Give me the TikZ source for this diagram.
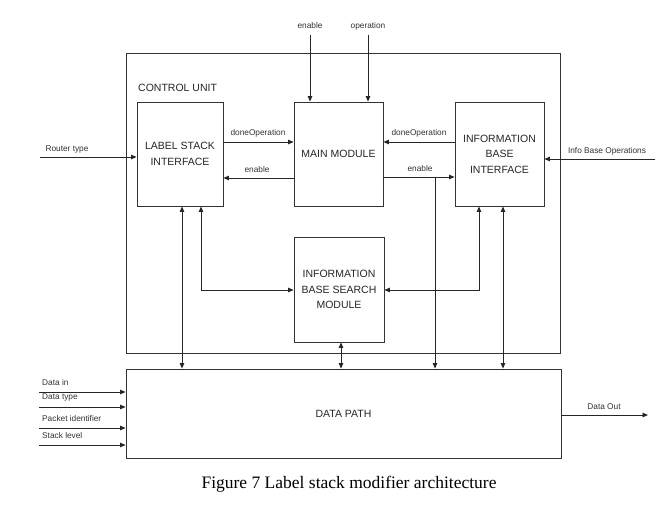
\documentclass[tikz,border=0pt]{standalone}
\usepackage{fontspec}
\setmainfont{Liberation Sans}
\newfontfamily\capfont{Liberation Serif}
\usetikzlibrary{arrows.meta}
\begin{document}
\begin{tikzpicture}[x=1pt,y=-1pt,
 blk/.style={draw=black!80, line width=0.9pt, align=center, font=\fontsize{10.5}{15.5}\selectfont, inner sep=0pt, text=black!85},
 lbl/.style={font=\fontsize{8.3}{9}\selectfont, inner sep=0pt, text=black!80},
 wire/.style={draw=black!85, line width=0.8pt},
 arr/.style={wire, -{Triangle[length=5.5pt,width=4.5pt]}},
 darr/.style={wire, {Triangle[length=5.5pt,width=4.5pt]}-{Triangle[length=5.5pt,width=4.5pt]}}]
\useasboundingbox (0,0) rectangle (663,513);
\fill[white] (0,0) rectangle (663,513);
% boxes
\node[blk, minimum width=434pt, minimum height=300pt] (cu) at (343,203) {};
\node[font=\fontsize{10.5}{12}\selectfont, anchor=west, inner sep=0pt, text=black!85] (cul) at (138,88) {CONTROL UNIT};
\node[blk, minimum width=86pt, minimum height=104pt] (lsi) at (180,154) {LABEL STACK\\INTERFACE};
\node[blk, minimum width=89pt, minimum height=104pt] (main) at (338.5,154) {MAIN MODULE};
\node[blk, minimum width=89pt, minimum height=104pt] (ibi) at (499.5,154) {INFORMATION\\BASE\\INTERFACE};
\node[blk, minimum width=90pt, minimum height=105pt] (search) at (339,289.5) {INFORMATION\\BASE SEARCH\\MODULE};
\node[blk, minimum width=435pt, minimum height=89pt] (dp) at (343.5,413.5) {DATA PATH};
% top inputs
\coordinate (en) at (310,35);
\coordinate (op) at (368,35);
\node[lbl] (enl) at (310,26) {enable};
\node[lbl] (opl) at (368,26) {operation};
\draw[arr] (en) -- (en |- main.north);
\draw[arr] (op) -- (op |- main.north);
% router type
\coordinate (rt) at (40,157);
\node[lbl] (rtl) at (67,150) {Router type};
\draw[arr] (rt) -- (rt -| lsi.west);
% info base ops
\coordinate (ibo) at (655,159);
\node[lbl] (ibol) at (607,151) {Info Base Operations};
\draw[arr] (ibo) -- (ibo -| ibi.east);
% main <-> lsi
\coordinate (ya) at (0,142);
\coordinate (yb) at (0,178);
\coordinate (yc) at (0,177);
\draw[arr] (lsi.east |- ya) -- (main.west |- ya);
\draw[arr] (main.west |- yb) -- (lsi.east |- yb);
\node[lbl] (d1) at (258,133) {doneOperation};
\node[lbl] (e1) at (257,170) {enable};
% main <-> ibi
\draw[arr] (ibi.west |- ya) -- (main.east |- ya);
\draw[arr] (main.east |- yc) -- (ibi.west |- yc);
\node[lbl] (d2) at (419,133) {doneOperation};
\node[lbl] (e2) at (420,169) {enable};
\coordinate (tap) at (435,177);
\draw[arr] (tap) -- (tap |- dp.north);
% bottom connections
\coordinate (xa) at (182,0);
\coordinate (xb) at (201,0);
\coordinate (xc) at (479,0);
\coordinate (xd) at (503,0);
\coordinate (xe) at (341,0);
\coordinate (ys) at (0,290);
\draw[darr] (xa |- lsi.south) -- (xa |- dp.north);
\draw[darr] (xb |- lsi.south) -- (xb |- ys) -- (search.west |- ys);
\draw[darr] (xc |- ibi.south) -- (xc |- ys) -- (search.east |- ys);
\draw[darr] (xd |- ibi.south) -- (xd |- dp.north);
\draw[darr] (xe |- search.south) -- (xe |- dp.north);
% data path inputs
\foreach \y/\ly/\t [count=\i] in {392/383/Data in, 407/398/Data type, 428/419/Packet identifier, 445/436/Stack level}{
  \coordinate (in\i) at (39,\y);
  \node[lbl, anchor=west] (inl\i) at (42,\ly) {\t};
  \draw[arr] (in\i) -- (in\i -| dp.west);
}
\coordinate (out) at (648,415);
\node[lbl] (outl) at (604,407) {Data Out};
\draw[arr] (out -| dp.east) -- (out);
% caption
\node[font=\capfont\fontsize{17.5}{20}\selectfont, inner sep=0pt] (cap) at (349,484) {Figure 7 Label stack modifier architecture};
\end{tikzpicture}
\end{document}
